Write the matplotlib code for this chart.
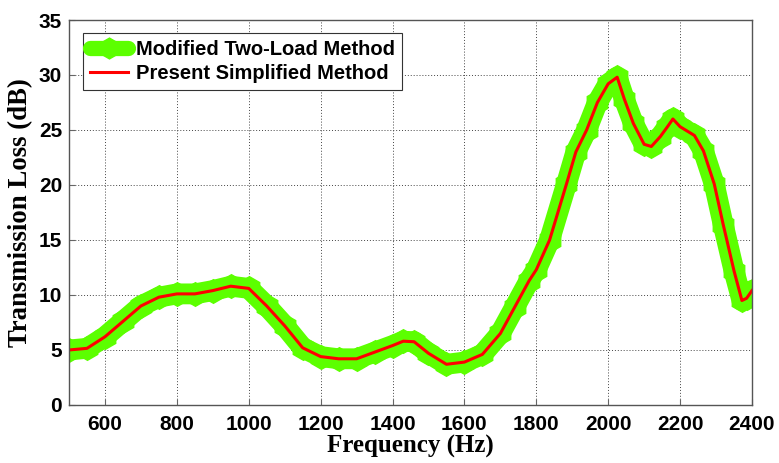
import numpy as np
import matplotlib
matplotlib.use('Agg')
import matplotlib.pyplot as plt

# frequency (Hz) and transmission loss (dB)
freq = [500, 550, 600, 650, 700, 750, 800, 850, 900, 950, 1000, 1050, 1100,
        1150, 1200, 1250, 1300, 1350, 1400, 1430, 1460, 1500, 1550, 1600,
        1650, 1700, 1740, 1780, 1800, 1837, 1884, 1910, 1940, 1970, 2000,
        2025, 2045, 2070, 2100, 2120, 2145, 2165, 2180, 2200, 2240, 2265,
        2295, 2320, 2350, 2372, 2385, 2400]
tl = [5.0, 5.15, 6.2, 7.6, 9.0, 9.8, 10.1, 10.1, 10.4, 10.8, 10.6, 9.0, 7.2,
      5.2, 4.4, 4.2, 4.2, 4.8, 5.4, 5.8, 5.75, 4.7, 3.7, 3.9,
      4.6, 6.5, 8.9, 11.3, 12.3, 15.0, 20.1, 23.0, 25.0, 27.5, 29.2,
      29.8, 27.8, 25.6, 23.7, 23.5, 24.4, 25.3, 26.0, 25.3, 24.5, 23.1,
      20.1, 16.4, 12.2, 9.5, 9.7, 10.4]

xticks = [600, 800, 1000, 1200, 1400, 1600, 1800, 2000, 2200, 2400]
yticks = [0, 5, 10, 15, 20, 25, 30, 35]

fig = plt.figure(figsize=(7.79, 4.63), dpi=100)
ax = fig.add_axes([0.0886, 0.1253, 0.8767, 0.8315])

ax.plot(freq, tl, color='#5cff00', lw=15, marker='h', ms=17, mec='#5cff00',
        solid_joinstyle='round', solid_capstyle='round',
        label='Modified Two-Load Method')
ax.plot(freq, tl, color='#ff0000', lw=2.2, label='Present Simplified Method')

ax.set_xlim(500, 2400)
ax.set_ylim(0, 35)
ax.set_xticks(xticks)
ax.set_yticks(yticks)
ax.grid(True, color='#444444', linestyle=(0, (1, 2)), lw=0.7)
ax.tick_params(direction='in', length=4, color='#666666')
for s in ax.spines.values():
    s.set_color('#555555')
    s.set_linewidth(1.0)

tickfont = dict(family='Liberation Sans', weight='bold', size=15)
for lab in ax.get_xticklabels() + ax.get_yticklabels():
    lab.set_fontproperties(matplotlib.font_manager.FontProperties(**tickfont))
ax.tick_params(axis='x', pad=7)
ax.tick_params(axis='y', pad=5)

ax.set_xlabel('Frequency (Hz)', family='Liberation Serif', weight='bold',
              size=18, labelpad=1)
ax.set_ylabel('Transmission Loss (dB)', family='Liberation Serif',
              weight='bold', size=19.3)
ax.yaxis.set_label_coords(-0.053, 0.5)

leg = ax.legend(loc='upper left', bbox_to_anchor=(0.02, 0.966),
                borderaxespad=0,
                prop=dict(family='Liberation Sans', weight='bold', size=14.5),
                fancybox=False, edgecolor='#333333', framealpha=1,
                borderpad=0.35, handlelength=1.9, labelspacing=0.25,
                handletextpad=0.4)
leg.get_frame().set_linewidth(0.8)
leg.legend_handles[0].set_linewidth(11)
leg.legend_handles[0].set_markersize(15)

fig.savefig('out.png', dpi=100)
